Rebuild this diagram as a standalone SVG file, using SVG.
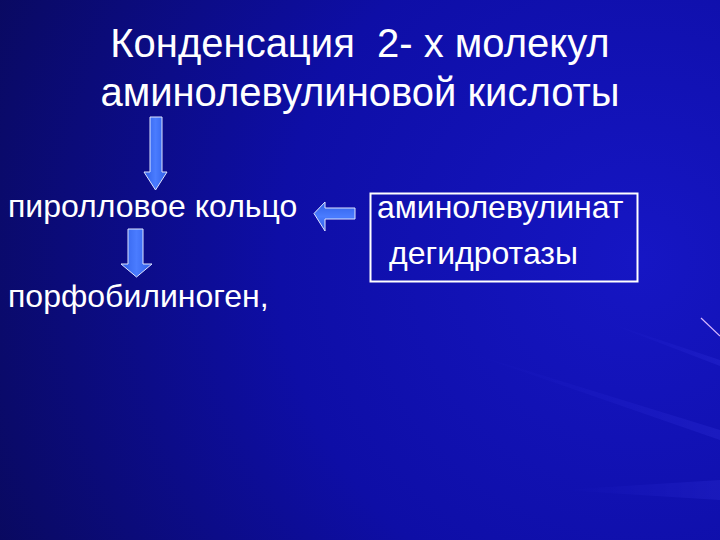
<svg xmlns="http://www.w3.org/2000/svg" width="720" height="540" viewBox="0 0 720 540">
<defs>
<radialGradient id="bg" cx="640" cy="260" r="720" gradientUnits="userSpaceOnUse">
<stop offset="0" stop-color="#1616c4"/>
<stop offset="0.5" stop-color="#0e0ea6"/>
<stop offset="1" stop-color="#09095c"/>
</radialGradient>
<linearGradient id="arr" x1="0" y1="0" x2="1" y2="0">
<stop offset="0" stop-color="#2f5fe8"/>
<stop offset="0.5" stop-color="#4a7cff"/>
<stop offset="1" stop-color="#2f5fe8"/>
</linearGradient>
<linearGradient id="arrh" x1="0" y1="0" x2="0" y2="1">
<stop offset="0" stop-color="#2f5fe8"/>
<stop offset="0.5" stop-color="#4a7cff"/>
<stop offset="1" stop-color="#2f5fe8"/>
</linearGradient>
<linearGradient id="streak" x1="0" y1="0" x2="1" y2="0">
<stop offset="0" stop-color="#4040ff" stop-opacity="0"/>
<stop offset="1" stop-color="#5050ff" stop-opacity="0.3"/>
</linearGradient>
</defs>
<style>
text{font-family:"Liberation Sans",Arial,sans-serif;fill:#ffffff}
.t{font-size:40px}
.b{font-size:32px}
.a{stroke:#dfe6ff;stroke-width:1}
</style>
<rect width="720" height="540" fill="url(#bg)"/>
<g opacity="0.5">
<path d="M460 350 L720 430 L720 440 Z" fill="url(#streak)"/>
<path d="M560 490 L720 480 L720 500 Z" fill="url(#streak)"/>
<path d="M600 320 L720 360 L720 366 Z" fill="url(#streak)"/>
</g>
<line x1="701" y1="318" x2="720" y2="336" stroke="#d8b8ff" stroke-width="1.2"/>
<g id="title">
<text class="t" x="360" y="57" text-anchor="middle" xml:space="preserve">Конденсация  2- х молекул</text>
<text class="t" x="360" y="106" text-anchor="middle">аминолевулиновой кислоты</text>
</g>
<g id="pyrrole">
<text class="b" x="8" y="217">пиролловое кольцо</text>
</g>
<g id="porpho">
<text class="b" x="8" y="307">порфобилиноген,</text>
</g>
<g id="enzyme">
<rect x="370.5" y="193.5" width="267" height="88" fill="none" stroke="#ffffff" stroke-width="2"/>
<text class="b" x="377" y="218">аминолевулинат</text>
<text class="b" x="389" y="264">дегидротазы</text>
</g>
<g id="connectors">
<path class="a" d="M150 117 H162 V172 H167 L155.5 190 L144 172 H150 Z" fill="url(#arr)"/>
<path class="a" d="M128 229 H143 V264 H152 L136.5 277 L121 264 H128 Z" fill="url(#arr)"/>
<path class="a" d="M355 208 V219 H325 V231 L314 213.5 L325 202 V208 Z" fill="url(#arrh)"/>
</g>
</svg>
